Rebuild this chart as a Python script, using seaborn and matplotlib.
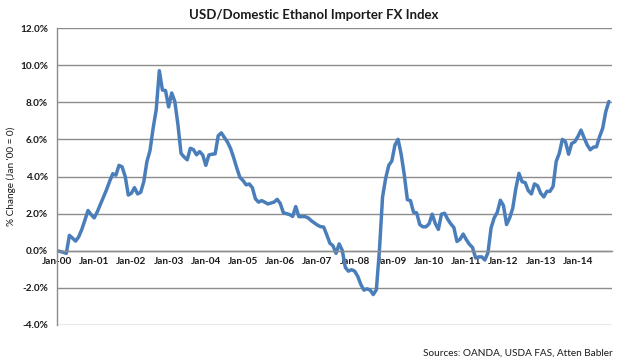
import numpy as np
import pandas as pd
import matplotlib
matplotlib.use("Agg")
import matplotlib.pyplot as plt
import seaborn as sns

# Monthly index values, Jan-00 .. Nov-14 (% change vs Jan '00)
values = [
    0.00, -0.04, -0.08, -0.14, 0.83, 0.68, 0.52, 0.75, 1.15, 1.65, 2.17, 1.95,   # 2000
    1.77, 2.10, 2.50, 2.90, 3.30, 3.75, 4.15, 4.07, 4.60, 4.52, 4.00, 3.00,      # 2001
    3.10, 3.40, 3.06, 3.15, 3.73, 4.80, 5.40, 6.60, 7.60, 9.70, 8.66, 8.63,      # 2002
    7.75, 8.50, 8.04, 6.80, 5.25, 5.05, 4.90, 5.52, 5.45, 5.17, 5.34, 5.16,      # 2003
    4.60, 5.16, 5.20, 5.22, 6.20, 6.35, 6.10, 5.85, 5.50, 5.00, 4.45, 3.95,      # 2004
    3.78, 3.55, 3.60, 3.40, 2.80, 2.62, 2.70, 2.62, 2.52, 2.57, 2.62, 2.77,      # 2005
    2.55, 2.05, 2.00, 1.95, 1.85, 2.38, 1.84, 1.84, 1.84, 1.77, 1.62, 1.50,      # 2006
    1.38, 1.30, 1.28, 0.86, 0.41, 0.27, -0.14, 0.37, 0.02, -0.90, -1.10, -1.02,  # 2007
    -1.10, -1.38, -1.82, -2.12, -2.05, -2.12, -2.36, -2.10, 0.05, 2.90, 3.90, 4.60,  # 2008
    4.84, 5.70, 6.00, 5.20, 4.10, 2.75, 2.70, 2.07, 2.04, 1.41, 1.29, 1.29,      # 2009
    1.45, 1.97, 1.47, 1.15, 1.97, 2.02, 1.70, 1.45, 1.25, 0.50, 0.62, 0.90,      # 2010
    0.60, 0.35, 0.18, -0.38, -0.33, -0.33, -0.50, -0.10, 1.23, 1.77, 2.07, 2.72, # 2011
    2.43, 1.41, 1.77, 2.30, 3.37, 4.17, 3.72, 3.67, 3.24, 3.06, 3.60, 3.50,      # 2012
    3.10, 2.90, 3.20, 3.20, 3.47, 4.81, 5.25, 6.00, 5.87, 5.20, 5.78, 5.87,      # 2013
    6.15, 6.50, 6.09, 5.70, 5.44, 5.58, 5.60, 6.15, 6.60, 7.50, 8.04,            # 2014
]
years = list(range(2000, 2015))
tick_labels = [f"Jan-{y % 100:02d}" for y in years]
y_ticks = [-4, -2, 0, 2, 4, 6, 8, 10, 12]

title = "USD/Domestic Ethanol Importer FX Index"
y_label = "% Change (Jan '00 = 0)"
source = "Sources: OANDA, USDA FAS, Atten Babler"

df = pd.DataFrame({"month": np.arange(len(values)), "value": values})

sns.set_theme(style="white")
plt.rcParams["font.family"] = ["Lato", "DejaVu Sans"]

fig = plt.figure(figsize=(6.28, 3.64), dpi=100)
ax = fig.add_axes([57 / 628, 1 - 325 / 364, (612 - 57) / 628, (325 - 28) / 364])

grid_c = "#8c8c8c"
sns.lineplot(data=df, x="month", y="value", ax=ax, color="#4a7ebb",
             linewidth=2.5, solid_capstyle="round", solid_joinstyle="round")

ax.set_xlim(0, 179)
ax.set_ylim(-4, 12)
ax.set_yticks(y_ticks)
ax.set_yticklabels([f"{t:.1f}%" for t in y_ticks])
ax.set_xticks([12 * k for k in range(len(years))])
ax.set_xticklabels(tick_labels)

ax.yaxis.grid(True, color=grid_c, linewidth=1.0)
ax.set_axisbelow(True)
for s in ["top", "right"]:
    ax.spines[s].set_visible(False)
ax.spines["left"].set_color(grid_c)
ax.spines["left"].set_linewidth(1.0)
ax.spines["bottom"].set_position(("data", 0))
ax.spines["bottom"].set_color(grid_c)
ax.spines["bottom"].set_linewidth(1.0)

ax.tick_params(axis="x", direction="out", length=3, width=1, color=grid_c,
               pad=1.5, labelsize=7.2, labelcolor="#1a1a1a")
ax.tick_params(axis="y", direction="out", length=2.5, width=1, color=grid_c,
               pad=4, labelsize=7.2, labelcolor="#1a1a1a")
for lab in ax.get_xticklabels() + ax.get_yticklabels():
    lab.set_fontweight("bold")

ax.set_xlabel("")
ax.set_ylabel(y_label, fontsize=7.2, color="#1a1a1a", labelpad=3)

fig.text(0.5, 1 - 15 / 364, title, ha="center", va="center",
         fontsize=9.5, fontweight="bold", color="#1a1a1a")
fig.text(613 / 628, 1 - 353 / 364, source, ha="right", va="center",
         fontsize=7.2, color="#1a1a1a")

fig.savefig("out.png", dpi=100)
